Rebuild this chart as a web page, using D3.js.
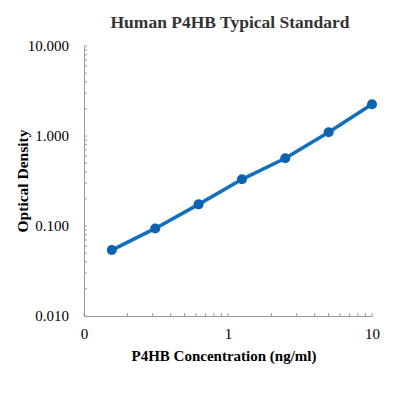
<!DOCTYPE html>
<html>
<head>
<meta charset="utf-8">
<script src="https://cdn.jsdelivr.net/npm/d3@7"></script>
<style>
  body { margin: 0; background: #fff; }
  text { font-family: "Liberation Serif", "Times New Roman", serif; }
</style>
</head>
<body>
<svg id="chart" width="398" height="396"></svg>
<script>
var concentration = [0.156, 0.3125, 0.625, 1.25, 2.5, 5, 10];
var density = [0.054, 0.094, 0.174, 0.330, 0.565, 1.10, 2.25];
var xTicks = [0.1, 1, 10];
var yTicks = [0.01, 0.1, 1, 10];

var svg = d3.select("svg#chart"),
    margin = {top: 46, right: 26, bottom: 80, left: 84};

var x = d3.scaleLog().domain([0.1, 10]).range([0, 288]);
var y = d3.scaleLog().domain([0.01, 10]).range([270, 0]);

var g = svg.append("g").attr("transform", "translate(" + margin.left + "," + margin.top + ")");

var axisColor = "#999";

// minor ticks
var minorX = [], minorY = [];
[0.1, 1].forEach(function(d) { for (var i = 2; i <= 9; i++) minorX.push(d * i); });
[0.01, 0.1, 1].forEach(function(d) { for (var i = 2; i <= 9; i++) minorY.push(d * i); });

var xAxis = g.append("g").attr("transform", "translate(0,270)")
    .call(d3.axisBottom(x).tickValues(xTicks).tickSize(0).tickPadding(12)
          .tickFormat(function(d) { return d3.format(".0f")(d); }));
xAxis.select(".domain").attr("stroke", axisColor);
xAxis.selectAll("text").attr("font-size", 15).attr("fill", "#000");
xAxis.selectAll(".minor").data(minorX.concat(xTicks)).enter().append("line")
    .attr("x1", function(d) { return x(d); }).attr("x2", function(d) { return x(d); })
    .attr("y1", 0).attr("y2", -3).attr("stroke", axisColor);

var yAxis = g.append("g")
    .call(d3.axisLeft(y).tickValues(yTicks).tickSize(0).tickPadding(15)
          .tickFormat(d3.format(".3f")));
yAxis.select(".domain").attr("stroke", axisColor);
yAxis.selectAll("text").attr("font-size", 15).attr("fill", "#000");
yAxis.selectAll(".minor").data(minorY.concat(yTicks)).enter().append("line")
    .attr("y1", function(d) { return y(d); }).attr("y2", function(d) { return y(d); })
    .attr("x1", 0).attr("x2", 3).attr("stroke", axisColor);

var pts = concentration.map(function(c, i) { return [c, density[i]]; });

g.append("path")
    .datum(pts)
    .attr("fill", "none")
    .attr("stroke", "#0f6fc0")
    .attr("stroke-width", 3.5)
    .attr("d", d3.line().x(function(d) { return x(d[0]); }).y(function(d) { return y(d[1]); }));

g.selectAll(".dot").data(pts).enter().append("circle")
    .attr("cx", function(d) { return x(d[0]); })
    .attr("cy", function(d) { return y(d[1]); })
    .attr("r", 5)
    .attr("fill", "#0b63b3");

svg.append("text")
    .attr("x", 230).attr("y", 28)
    .attr("text-anchor", "middle")
    .attr("font-size", 17.5).attr("font-weight", "bold").attr("fill", "#333")
    .text("Human P4HB Typical Standard");

svg.append("text")
    .attr("x", 224).attr("y", 361)
    .attr("text-anchor", "middle")
    .attr("font-size", 15).attr("font-weight", "bold")
    .text("P4HB Concentration (ng/ml)");

svg.append("text")
    .attr("transform", "translate(28,181) rotate(-90)")
    .attr("text-anchor", "middle")
    .attr("font-size", 15.5).attr("font-weight", "bold")
    .text("Optical Density");
</script>
</body>
</html>
